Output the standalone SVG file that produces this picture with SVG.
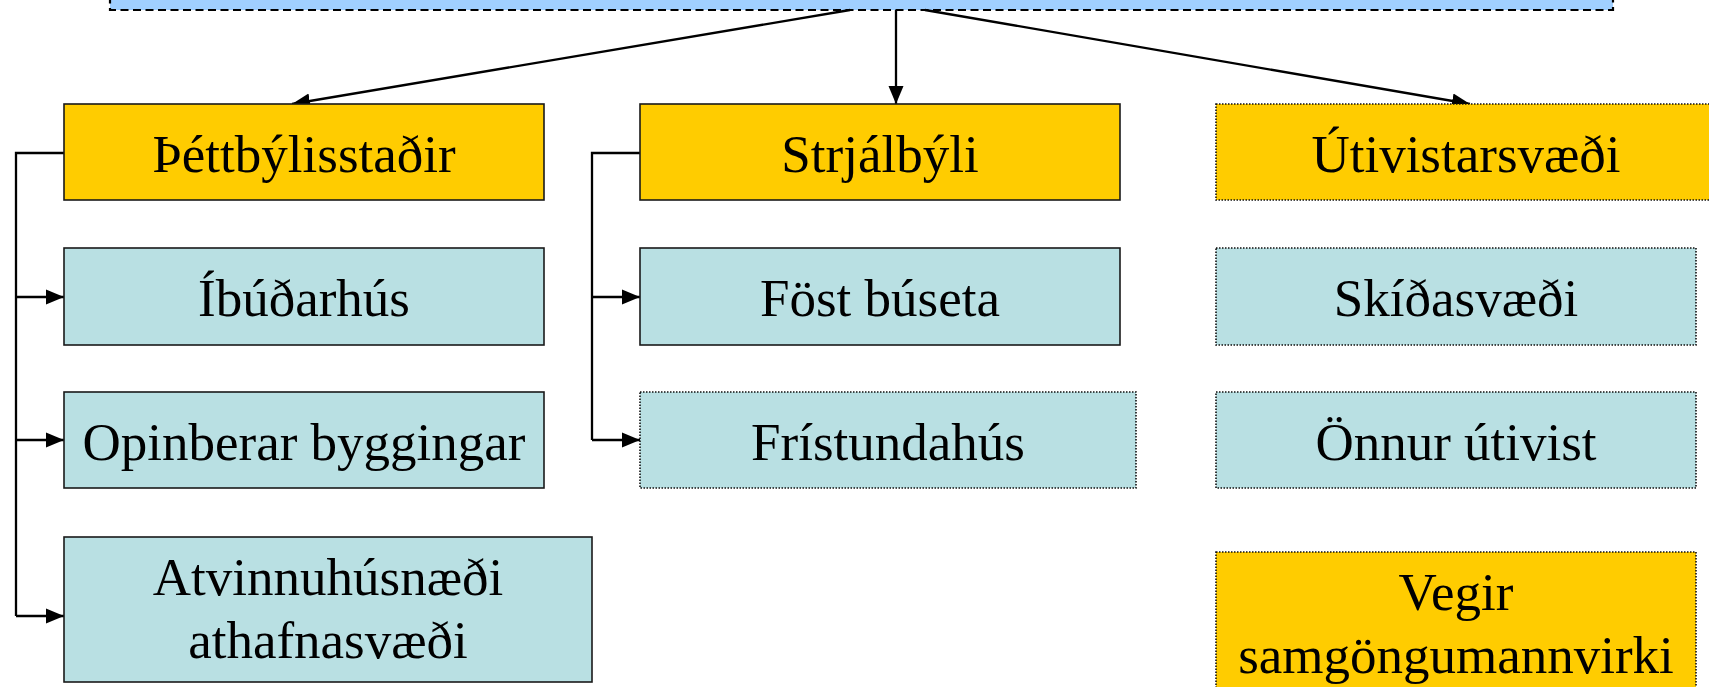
<svg xmlns="http://www.w3.org/2000/svg" width="1709" height="687" viewBox="0 0 1709 687">
  <style>
    .box { stroke: #1a1a1a; stroke-width: 1.6; }
    .gold { fill: #FFCC00; }
    .teal { fill: #B9E0E3; }
    .sky { fill: #A0CFFF; }
    .dashed { stroke: #000; stroke-width: 2.2; stroke-dasharray: 8 4.5; }
    .dotted { stroke: #111; stroke-width: 1.6; stroke-dasharray: 1.5 1.5; }
    .label { font-family: "Liberation Serif", "Times New Roman", serif; font-size: 53px; fill: #000; text-anchor: middle; }
    .link { fill: none; stroke: #000; stroke-width: 2.3; }
    .arrow { marker-end: url(#head); }
  </style>
  <defs>
    <marker id="head" markerUnits="userSpaceOnUse" markerWidth="20" markerHeight="17" refX="18" refY="8" orient="auto">
      <path d="M0,0.5 L18,8 L0,15.5 z" fill="#000"/>
    </marker>
  </defs>

  <rect width="1709" height="687" fill="#fff"/>

  <!-- root box, its lower edge only is in view -->
  <g id="root">
    <rect class="sky dashed" x="110" y="-40" width="1503" height="50"/>
  </g>

  <g id="connectors">
    <path class="link arrow" d="M850,10 L292,104"/>
    <path class="link arrow" d="M896,10 L896,104"/>
    <path class="link arrow" d="M925,10 L1470,104"/>

    <path class="link" d="M64,153 H16 V616"/>
    <path class="link arrow" d="M16,297 H64"/>
    <path class="link arrow" d="M16,440 H64"/>
    <path class="link arrow" d="M16,616 H64"/>

    <path class="link" d="M640,153 H592 V440"/>
    <path class="link arrow" d="M592,297 H640"/>
    <path class="link arrow" d="M592,440 H640"/>
  </g>

  <g id="thettbyli">
    <rect class="box gold" x="64" y="104" width="480" height="96"/>
    <text class="label" x="304" y="172">Þéttbýlisstaðir</text>
  </g>
  <g id="strjalbyli">
    <rect class="box gold" x="640" y="104" width="480" height="96"/>
    <text class="label" x="880" y="172">Strjálbýli</text>
  </g>
  <g id="utivist">
    <rect class="gold dotted" x="1216" y="104" width="500" height="96"/>
    <text class="label" x="1466" y="172">Útivistarsvæði</text>
  </g>

  <g id="ibudarhus">
    <rect class="box teal" x="64" y="248" width="480" height="97"/>
    <text class="label" x="304" y="316">Íbúðarhús</text>
  </g>
  <g id="opinberar">
    <rect class="box teal" x="64" y="392" width="480" height="96"/>
    <text class="label" x="304" y="460">Opinberar byggingar</text>
  </g>
  <g id="atvinnu">
    <rect class="box teal" x="64" y="537" width="528" height="145"/>
    <text class="label" x="328" y="595">Atvinnuhúsnæði</text>
    <text class="label" x="328" y="658">athafnasvæði</text>
  </g>

  <g id="fost-buseta">
    <rect class="box teal" x="640" y="248" width="480" height="97"/>
    <text class="label" x="880" y="316">Föst búseta</text>
  </g>
  <g id="fristundahus">
    <rect class="teal dotted" x="640" y="392" width="496" height="96"/>
    <text class="label" x="888" y="460">Frístundahús</text>
  </g>

  <g id="skidasvaedi">
    <rect class="teal dotted" x="1216" y="248" width="480" height="97"/>
    <text class="label" x="1456" y="316">Skíðasvæði</text>
  </g>
  <g id="onnur-utivist">
    <rect class="teal dotted" x="1216" y="392" width="480" height="96"/>
    <text class="label" x="1456" y="460">Önnur útivist</text>
  </g>
  <g id="vegir">
    <rect class="gold dotted" x="1216" y="552" width="480" height="200"/>
    <text class="label" x="1456" y="610">Vegir</text>
    <text class="label" x="1456" y="673">samgöngumannvirki</text>
  </g>
</svg>
